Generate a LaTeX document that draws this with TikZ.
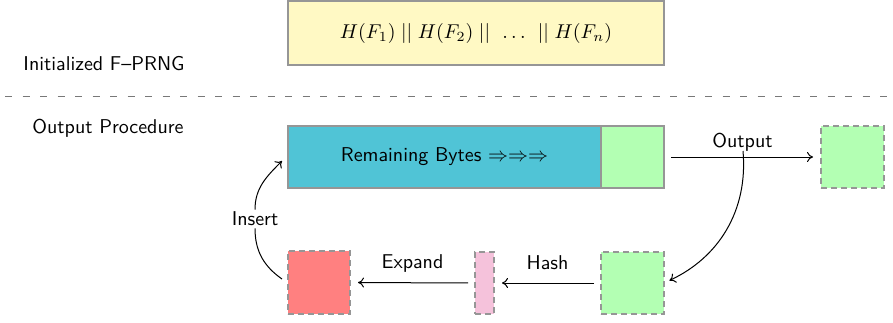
\documentclass[tikz,border=0pt]{standalone}
\usetikzlibrary{arrows.meta}
\definecolor{ylw}{RGB}{255,249,196}
\definecolor{cyn}{RGB}{80,196,214}
\definecolor{grn}{RGB}{179,255,179}
\definecolor{rd}{RGB}{255,128,128}
\definecolor{pnk}{RGB}{245,194,219}
\definecolor{bord}{RGB}{150,150,150}
\def\pxu{0.5pt}
\tikzset{
  box/.style={draw=bord, line width=0.6pt, inner sep=0pt, outer sep=0pt, font=\sffamily},
  dbox/.style={box, dashed, dash pattern=on 3pt off 2pt},
  lbl/.style={font=\sffamily, inner sep=1pt},
  arr/.style={-{To[length=3pt,width=5pt]}, line width=0.5pt}
}
\begin{document}
\begin{tikzpicture}[x=0.5pt,y=-0.5pt]
\useasboundingbox (0,0) rectangle (893,322);
\node[box, fill=ylw, minimum width=376*\pxu, minimum height=64*\pxu] (seed) at (476,33)
  {$H(F_1) \mathrel{||} H(F_2) \mathrel{||} \ \ldots\ \mathrel{||} H(F_n)$};
\node[lbl] (init) at (104,64) {Initialized F--PRNG};
\coordinate (dl) at (5,96);
\coordinate (dr) at (893,96);
\draw[bord!80!black, line width=0.5pt, dash pattern=on 3.5pt off 5.25pt] (dl) -- (dr);
\node[lbl] (outproc) at (108,128) {Output Procedure};

\node[box, fill=cyn, minimum width=313*\pxu, minimum height=62*\pxu] (rem) at (444.5,157) {Remaining Bytes $\Rightarrow\Rightarrow\Rightarrow$};
\node[box, fill=grn, minimum width=63*\pxu, minimum height=62*\pxu] (chunk) at (632.5,157) {};
\node[dbox, fill=grn, minimum width=63*\pxu, minimum height=62*\pxu] (outsq) at (852.5,157) {};
\node[dbox, fill=grn, minimum width=63*\pxu, minimum height=62*\pxu] (gsq) at (632.5,283) {};
\node[dbox, fill=pnk, minimum width=19*\pxu, minimum height=62*\pxu] (psq) at (484.5,283) {};
\node[dbox, fill=rd, minimum width=62*\pxu, minimum height=63*\pxu] (rsq) at (319,282.5) {};

\draw[arr, shorten <=7*\pxu, shorten >=8*\pxu] (chunk.east) -- node[lbl, above, yshift=1.5pt] (outlbl) {Output} (outsq.west);
\coordinate (obr) at (743,151);
\draw[arr, shorten >=6*\pxu] (obr) to[out=-85, in=25] (gsq.east);
\draw[arr, shorten <=7*\pxu, shorten >=8*\pxu] (gsq.west) -- node[lbl, above, yshift=5.5pt] (hashlbl) {Hash} (psq.east);
\draw[arr, shorten <=7*\pxu, shorten >=8*\pxu] (psq.west) -- node[lbl, above, yshift=4pt] (explbl) {Expand} (rsq.east);
\node[lbl] (ins) at (255,219) {Insert};
\coordinate (rs) at (282,279);
\coordinate (ce) at (282,161);
\draw[line width=0.5pt] (rs) to[out=145, in=-90] (ins.south);
\draw[arr] (ins.north) to[out=90, in=-135] (ce);
\end{tikzpicture}
\end{document}
